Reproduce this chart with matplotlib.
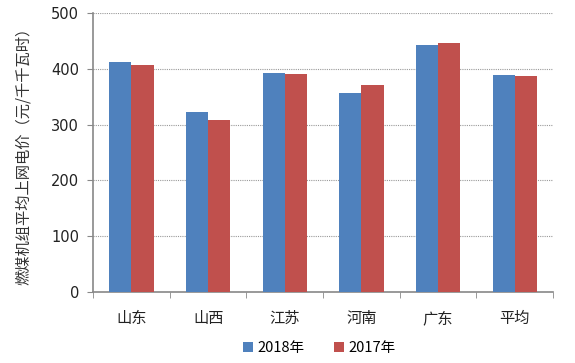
import matplotlib
matplotlib.use("Agg")
import matplotlib.pyplot as plt
import numpy as np

plt.rcParams['font.family'] = ['Noto Sans CJK SC', 'DejaVu Sans']

categories = ['山东', '山西', '江苏', '河南', '广东', '平均']
v2018 = [412, 322, 392, 357, 443, 389]
v2017 = [407, 308, 391, 371, 446, 387]
yticks = [0, 100, 200, 300, 400, 500]

fig = plt.figure(figsize=(5.75, 3.63), dpi=100)
ax = fig.add_axes([0.162, 0.196, 0.8, 0.768])

x = np.arange(len(categories))
w = 0.29
ax.bar(x - w/2, v2018, w, color='#4F81BD', label='2018年', zorder=3)
ax.bar(x + w/2, v2017, w, color='#C0504D', label='2017年', zorder=3)

ax.set_xlim(-0.5, len(categories) - 0.5)
ax.set_ylim(0, 500)
ax.set_yticks(yticks)
ax.set_yticklabels([str(t) for t in yticks], fontsize=10.5, family='DejaVu Sans', color='#222222')
ax.yaxis.grid(True, linestyle=(0, (1, 1)), color='#999999', linewidth=0.8, zorder=0)
ax.set_xticks(x)
ax.set_xticklabels(categories, fontsize=11, color='#222222')
ax.set_xticks(np.arange(-0.5, len(categories)), minor=True)
ax.tick_params(axis='x', which='major', length=0, pad=13)
ax.tick_params(axis='x', which='minor', length=4, color='#888888', direction='out')
ax.tick_params(axis='y', length=4, color='#888888', direction='out', pad=6)

for s in ['top', 'right']:
    ax.spines[s].set_visible(False)
for s in ['left', 'bottom']:
    ax.spines[s].set_color('#888888')
    ax.spines[s].set_linewidth(1.2)

ax.set_ylabel('燃煤机组平均上网电价（元/千千瓦时）', fontsize=11, color='#333333', labelpad=14)

fig.legend(loc='center', bbox_to_anchor=(0.555, 0.042), ncol=2, frameon=False,
           fontsize=10.5, handlelength=0.7, handleheight=0.7, columnspacing=2.0,
           handletextpad=0.3, borderpad=0.1)

fig.savefig('out.png', dpi=100)
